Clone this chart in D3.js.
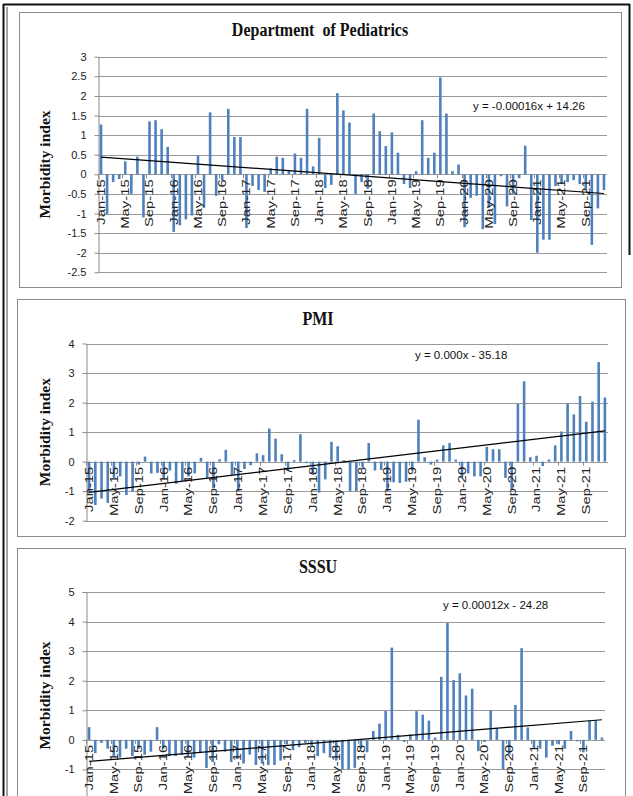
<!DOCTYPE html>
<html>
<head>
<meta charset="utf-8">
<script src="https://cdn.jsdelivr.net/npm/d3@7"></script>
<style>
  body { margin: 0; background: #fff; }
  svg { display: block; }
</style>
</head>
<body>
<svg></svg>
<script>
const W = 633, H = 796;

// monthly morbidity index, Jan-15 .. Dec-21
const pediatrics = [
  1.27, -1.02, -0.2, -0.12, 0.33, -0.5, 0.45, -1.1, 1.35, 1.38, 1.15, 0.7,
  -1.47, -1.3, -1.15, -1.05, 0.48, -0.85, 1.58, -0.55, -0.15, 1.67, 0.95, 0.95,
  -1.37, -0.3, -0.4, -0.45, 0.15, 0.45, 0.42, 0.1, 0.53, 0.42, 1.67, 0.2,
  0.93, -0.35, -0.27, 2.07, 1.63, 1.32, -0.5, -0.2, -0.37, 1.55, 1.1, 0.72,
  1.07, 0.55, -0.25, -0.35, 0.08, 1.38, 0.42, 0.55, 2.47, 1.55, 0.08, 0.25,
  -1.35, -0.6, -0.55, -1.4, -0.85, -1.27, -0.05, -0.82, -0.5, -0.1, 0.73, -1.17,
  -2.0, -1.67, -1.67, -0.3, -0.25, -0.2, -0.15, -0.25, -0.4, -1.8, -0.87, -0.4
];
const pmi = [
  -1.07, -1.47, -1.25, -1.4, -0.55, -0.5, -1.13, -1.0, -0.1, 0.17, -0.4, -0.38,
  -0.6, -0.3, -0.75, -0.65, -0.5, -0.4, 0.13, -0.55, -0.9, 0.08, 0.4, -0.45,
  -1.0, -0.25, -0.12, 0.28, 0.22, 1.12, 0.78, 0.25, -0.3, 0.05, 0.93, -0.05,
  -0.45, -1.05, -0.6, 0.67, 0.52, 0.05, -1.0, -1.0, -0.2, 0.63, -0.3, -0.28,
  -1.0, -0.7, -0.72, -0.68, -0.3, 1.42, 0.15, -0.1, 0.07, 0.55, 0.63, 0.07,
  -0.55, -0.4, -0.5, -0.5, 0.5, 0.42, 0.42, -0.55, -0.95, 1.95, 2.72, 0.15,
  0.2, -0.15, 0.07, 0.55, 1.02, 1.97, 1.6, 2.22, 1.35, 2.03, 3.37, 2.17
];
const sssu = [
  0.43, -0.45, -0.1, -0.3, -0.55, -0.6, -0.3, -0.55, -0.3, -0.5, -0.4, 0.43,
  -0.3, -0.55, -0.55, -0.5, -0.6, -0.6, -0.45, -0.95, -0.75, -0.15, -0.4, -0.75,
  -0.65, -0.8, -0.5, -0.85, -0.8, -0.85, -0.85, -0.7, -0.15, -0.35, -0.25, -0.1,
  -0.2, -0.55, -0.45, -0.6, -0.7, -1.0, -1.0, -0.95, -0.3, -0.42, 0.3, 0.55,
  0.98, 3.12, 0.17, -0.07, 0.18, 0.97, 0.85, 0.65, 0.08, 2.13, 3.95, 2.02,
  2.25, 1.5, 1.73, -0.38, -0.07, 1.0, 0.4, -1.0, -0.5, 1.18, 3.1, 0.42,
  -0.3, -0.3, -0.6, -0.2, -0.15, -0.3, 0.3, -0.05, -0.42, 0.65, 0.65, 0.08
];

// linear trend, value at first and last month
const trendPediatrics = [0.44, -0.49];
const trendPmi = [-1.04, 1.04];
const trendSssu = [-0.73, 0.68];

const titles = ["Department  of Pediatrics", "PMI", "SSSU"];
const equations = ["y = -0.00016x + 14.26", "y = 0.000x - 35.18", "y = 0.00012x - 24.28"];

const fmtMonth = d3.timeFormat("%b-%y");
const categories = d3.timeMonths(new Date(2015, 0, 1), new Date(2022, 0, 1)).map(fmtMonth);
const tickLabels = categories.filter((d, i) => i % 4 === 0);

const svg = d3.select("svg").attr("width", W).attr("height", H);
svg.append("rect").attr("width", W).attr("height", H).attr("fill", "#fff");

// page frame
svg.append("line").attr("x1", 3.5).attr("x2", 3.5).attr("y1", 4).attr("y2", H).attr("stroke", "#111").attr("stroke-width", 2);
svg.append("line").attr("x1", 7).attr("x2", 7).attr("y1", 7).attr("y2", H).attr("stroke", "#444").attr("stroke-width", 1);
svg.append("line").attr("x1", 3).attr("x2", 630).attr("y1", 4.5).attr("y2", 4.5).attr("stroke", "#111").attr("stroke-width", 2);
svg.append("line").attr("x1", 629.5).attr("x2", 629.5).attr("y1", 4).attr("y2", 255).attr("stroke", "#111").attr("stroke-width", 2);

const panels = [
  { values: pediatrics, trend: trendPediatrics, title: titles[0], eq: equations[0],
    box: [19, 12, 602, 275], x0: 98, x1: 607, yTop: 56.7, yBottom: 272.3,
    domain: [-2.5, 3], labelMin: -2.5, step: 0.5, titleX: 320, titleY: 36, eqX: 473, eqY: 110 },
  { values: pmi, trend: trendPmi, title: titles[1], eq: equations[1],
    box: [17, 299, 608, 237], x0: 86, x1: 608, yTop: 343.5, yBottom: 520.7,
    domain: [-2, 4], labelMin: -2, step: 1, titleX: 318, titleY: 325, eqX: 415, eqY: 359 },
  { values: sssu, trend: trendSssu, title: titles[2], eq: equations[2],
    box: [17, 548, 608, 262], x0: 86, x1: 605, yTop: 592, yBottom: 799,
    domain: [-2, 5], labelMin: -1, step: 1, titleX: 318, titleY: 573, eqX: 443, eqY: 609 }
];

panels.forEach(drawPanel);

function drawPanel(p) {
  const g = svg.append("g");

  g.append("rect")
    .attr("x", p.box[0] + 0.5).attr("y", p.box[1] + 0.5)
    .attr("width", p.box[2]).attr("height", p.box[3])
    .attr("fill", "#fff").attr("stroke", "#8a8a8a");

  const x = d3.scaleBand().domain(categories).range([p.x0, p.x1]);
  const y = d3.scaleLinear().domain(p.domain).range([p.yBottom, p.yTop]);
  const ticks = d3.range(p.domain[0], p.domain[1] + 1e-9, p.step);
  const labelTicks = ticks.filter(t => t >= p.labelMin - 1e-9);

  // gridlines
  g.selectAll("line.grid").data(ticks).join("line")
    .attr("class", "grid")
    .attr("x1", p.x0).attr("x2", p.x1)
    .attr("y1", d => Math.round(y(d)) + 0.5).attr("y2", d => Math.round(y(d)) + 0.5)
    .attr("stroke", "#9a9a9a");

  // y axis
  const ay = g.append("g")
    .attr("transform", `translate(${p.x0 + 0.5},0)`)
    .call(d3.axisLeft(y).tickValues(labelTicks).tickSizeInner(4).tickSizeOuter(0).tickPadding(8)
      .tickFormat(d => String(+d.toFixed(1))));
  ay.select(".domain").attr("stroke", "#8a8a8a");
  ay.selectAll(".tick line").attr("stroke", "#8a8a8a");
  ay.selectAll(".tick text").attr("font-family", "Liberation Sans, Arial, sans-serif")
    .attr("font-size", 11).attr("fill", "#222");

  // bars
  const bw = 2.6;
  g.selectAll("rect.bar").data(p.values).join("rect")
    .attr("class", "bar")
    .attr("x", (d, i) => x(categories[i]) + (x.bandwidth() - bw) / 2)
    .attr("y", d => y(Math.max(0, d)))
    .attr("width", bw)
    .attr("height", d => Math.abs(y(d) - y(0)))
    .attr("fill", "#4f81bd");

  // category ticks and labels on the zero line
  g.selectAll("line.xt").data(tickLabels).join("line")
    .attr("class", "xt")
    .attr("x1", d => Math.round(x(d)) + 0.5).attr("x2", d => Math.round(x(d)) + 0.5)
    .attr("y1", y(0)).attr("y2", y(0) + 4)
    .attr("stroke", "#8a8a8a");

  g.selectAll("text.xl").data(tickLabels).join("text")
    .attr("class", "xl")
    .attr("transform", d => `translate(${x(d) + x.bandwidth() / 2},${y(0) + 5}) rotate(-90) scale(1.35,1)`)
    .attr("text-anchor", "end")
    .attr("dy", "0.35em")
    .attr("font-family", "Liberation Sans, Arial, sans-serif")
    .attr("font-size", 11)
    .attr("fill", "#222")
    .text(d => d);

  // trend line
  const first = categories[0], last = categories[categories.length - 1];
  g.append("line")
    .attr("x1", x(first) + x.bandwidth() / 2).attr("y1", y(p.trend[0]))
    .attr("x2", x(last) + x.bandwidth() / 2).attr("y2", y(p.trend[1]))
    .attr("stroke", "#000").attr("stroke-width", 1.2);

  g.append("text")
    .attr("x", p.eqX).attr("y", p.eqY)
    .attr("font-family", "Liberation Sans, Arial, sans-serif")
    .attr("font-size", 11.5).attr("fill", "#111")
    .text(p.eq);

  // titles
  g.append("text")
    .attr("transform", `translate(${p.titleX},${p.titleY}) scale(1,1.15)`)
    .attr("text-anchor", "middle")
    .attr("font-family", "Liberation Serif, Times New Roman, serif")
    .attr("font-weight", "bold").attr("font-size", 16).attr("fill", "#111")
    .style("white-space", "pre")
    .text(p.title);

  g.append("text")
    .attr("transform", `translate(45,${(p.yTop + p.yBottom) / 2}) rotate(-90)`)
    .attr("text-anchor", "middle")
    .attr("dy", "0.35em")
    .attr("font-family", "Liberation Serif, Times New Roman, serif")
    .attr("font-weight", "bold").attr("font-size", 15.5).attr("fill", "#111")
    .text("Morbidity index");
}
</script>
</body>
</html>
